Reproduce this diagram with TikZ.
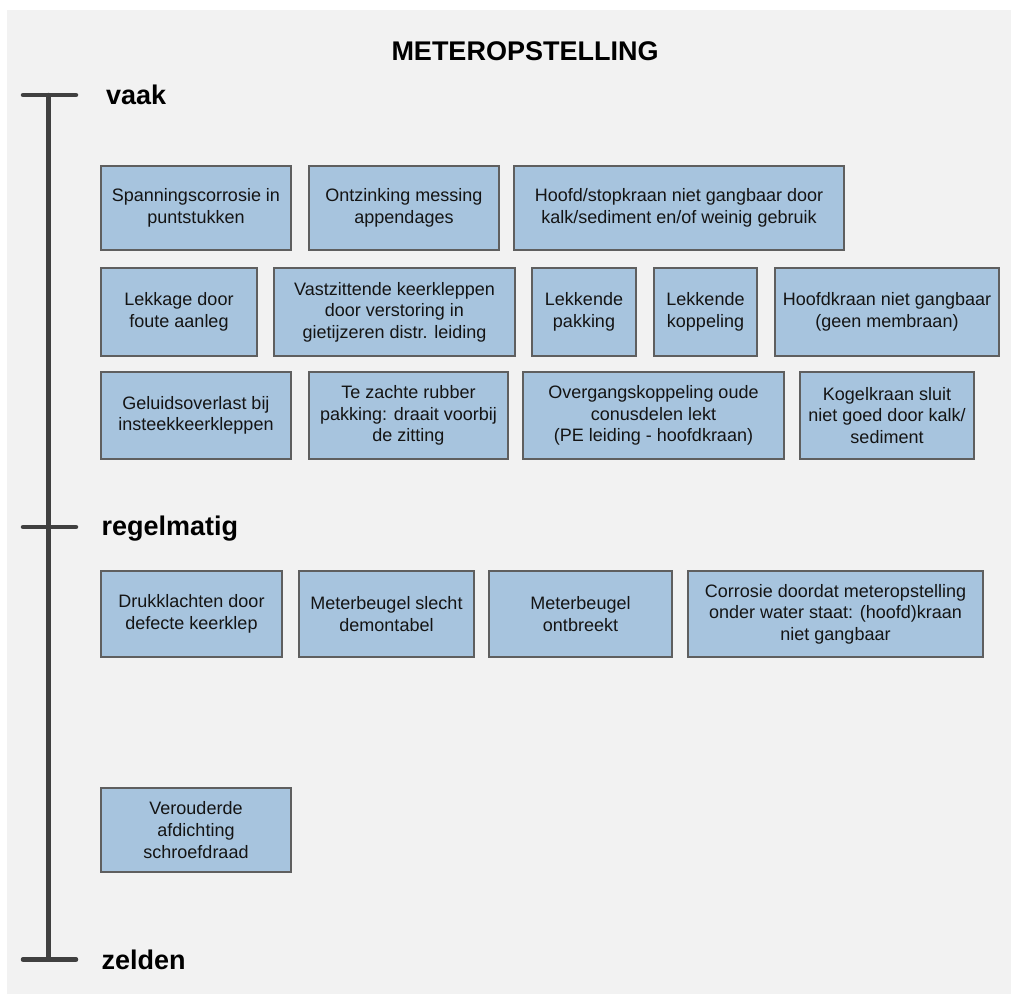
\documentclass[tikz,border=0pt]{standalone}
\usepackage{fontspec}
\setmainfont{Liberation Sans}
\definecolor{panelbg}{HTML}{F2F2F2}
\definecolor{cardfill}{RGB}{167,196,222}
\definecolor{cardline}{HTML}{5F5F5F}
\definecolor{axisgray}{HTML}{404040}
\definecolor{ink}{HTML}{141414}
\tikzset{
  card/.style={draw=cardline, line width=1.4pt, fill=cardfill, inner sep=0pt,
    align=center, text=ink, font=\fontsize{18}{21.6}\selectfont},
  axis/.style={draw=axisgray, line width=4.5pt, line cap=round},
  level/.style={inner sep=0pt, anchor=base west, font=\fontsize{27}{30}\selectfont\bfseries},
  heading/.style={inner sep=0pt, anchor=base, font=\fontsize{27}{30}\selectfont\bfseries}
}
\begin{document}
\begin{tikzpicture}[x=1pt, y=-1pt]
  \useasboundingbox (0,0) rectangle (1011,994);
  \fill[panelbg] (7,10) rectangle (1011,994);

  % title
  \node[heading] (title) at (525,60) {METEROPSTELLING};

  % frequency axis
  \coordinate (axtop) at (48.5,95);
  \coordinate (axmid) at (48.5,527);
  \coordinate (axbot) at (48.5,959.5);
  \coordinate (tk1l) at (23,95);    \coordinate (tk1r) at (76,95);
  \coordinate (tk2l) at (23,527);   \coordinate (tk2r) at (76,527);
  \coordinate (tk3l) at (23,959.5); \coordinate (tk3r) at (76,959.5);
  \draw[axis] (axtop) -- (axmid) -- (axbot);
  \draw[axis] (tk1l) -- (tk1r);
  \draw[axis] (tk2l) -- (tk2r);
  \draw[axis] (tk3l) -- (tk3r);

  \node[level] (vaak) at (106,104) {vaak};
  \node[level] (regelmatig) at (101.5,535.5) {regelmatig};
  \node[level] (zelden) at (101.5,969) {zelden};

  % vaak
  \node[card, minimum width=190pt, minimum height=84pt] (a1) at (196,208)
    {Spanningscorrosie in\\puntstukken};
  \node[card, minimum width=190pt, minimum height=84pt] (a2) at (404,208)
    {Ontzinking messing\\appendages};
  \node[card, minimum width=330pt, minimum height=84pt] (a3) at (679,208)
    {Hoofd/stopkraan niet gangbaar door\\kalk/sediment en/of weinig gebruik};

  \node[card, minimum width=156pt, minimum height=88pt] (b1) at (179,312)
    {Lekkage door\\foute aanleg};
  \node[card, minimum width=241pt, minimum height=88pt] (b2) at (394.5,312)
    {Vastzittende keerkleppen\\door verstoring in\\gietijzeren distr. leiding};
  \node[card, minimum width=104pt, minimum height=88pt] (b3) at (584,312)
    {Lekkende\\pakking};
  \node[card, minimum width=103pt, minimum height=88pt] (b4) at (705.5,312)
    {Lekkende\\koppeling};
  \node[card, minimum width=224pt, minimum height=88pt] (b5) at (887,312)
    {Hoofdkraan niet gangbaar\\(geen membraan)};

  \node[card, minimum width=190pt, minimum height=87pt] (c1) at (196,415.5)
    {Geluidsoverlast bij\\insteekkeerkleppen};
  \node[card, minimum width=199pt, minimum height=87pt] (c2) at (408.5,415.5)
    {Te zachte rubber\\pakking: draait voorbij\\de zitting};
  \node[card, minimum width=261pt, minimum height=87pt] (c3) at (653.5,415.5)
    {Overgangskoppeling oude\\conusdelen lekt\\(PE leiding - hoofdkraan)};
  \node[card, minimum width=174pt, minimum height=87pt] (c4) at (887,415.5)
    {Kogelkraan sluit\\niet goed door kalk/\\sediment};

  % regelmatig
  \node[card, minimum width=181pt, minimum height=86pt] (d1) at (191.5,614)
    {Drukklachten door\\defecte keerklep};
  \node[card, minimum width=175pt, minimum height=86pt] (d2) at (386.5,614)
    {Meterbeugel slecht\\demontabel};
  \node[card, minimum width=183pt, minimum height=86pt] (d3) at (580.5,614)
    {Meterbeugel\\ontbreekt};
  \node[card, minimum width=295pt, minimum height=86pt] (d4) at (835.5,614)
    {Corrosie doordat meteropstelling\\onder water staat: (hoofd)kraan\\niet gangbaar};

  % zelden
  \node[card, minimum width=190pt, minimum height=84pt] (e1) at (196,830)
    {Verouderde\\afdichting\\schroefdraad};
\end{tikzpicture}
\end{document}
